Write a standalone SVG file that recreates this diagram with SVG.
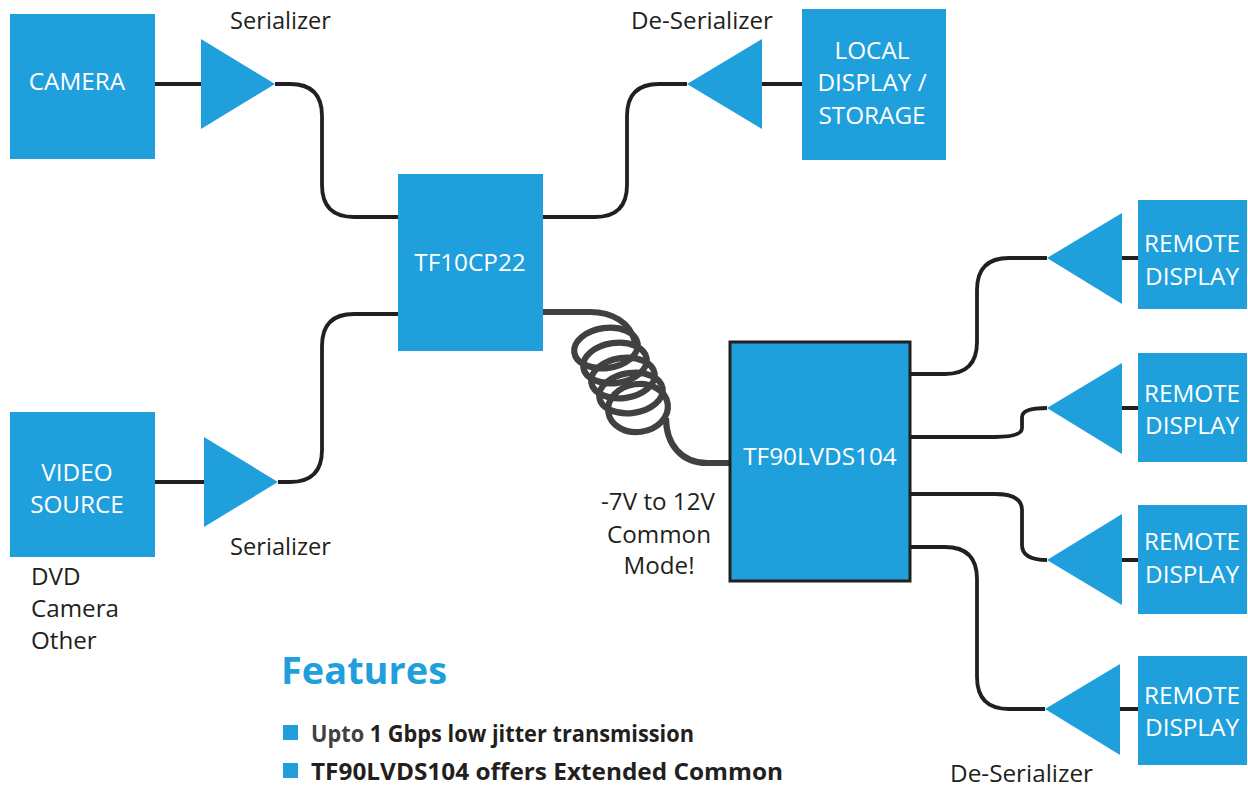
<svg xmlns="http://www.w3.org/2000/svg" width="1248" height="787" viewBox="0 0 1248 787">
<style>
.b{fill:#1f9fdc}
.w{fill:#fff;font:24.3px "Open Sans","Noto Sans",sans-serif;text-anchor:middle}
.k{fill:#231f20;font:24.2px "Open Sans","Noto Sans",sans-serif}
.m{text-anchor:middle}
.c{fill:none;stroke:#231f20;stroke-width:3.8}
.h{fill:none;stroke:#414042;stroke-width:6.2}
.f{fill:#231f20;font:bold 24px "Open Sans","Noto Sans",sans-serif}
</style>
<rect width="1248" height="787" fill="#fff"/>
<g id="connectors">
<path class="c" d="M155 84H201M275 84H290Q322 84 322 116V185Q322 217 354 217H398"/>
<path class="c" d="M155 482H204M278 482H290Q322 482 322 450V346Q322 314 354 314H398"/>
<path class="c" d="M543 217H595Q627 217 627 185V116Q627 84 659 84H687M762 84H802"/>
<path class="c" d="M911 374H945Q977 374 977 342V290Q977 258 1009 258H1047M1122 258H1138"/>
<path class="c" d="M911 437H995Q1022 437 1022 428V417Q1022 408 1047 408M1122 408H1138"/>
<path class="c" d="M911 494H995Q1022 494 1022 510V545Q1022 560 1047 560M1122 560H1138"/>
<path class="c" d="M911 547H945Q977 547 977 579V677Q977 709 1009 709H1045M1120 709H1138"/>
<path class="h" d="M543 312H590C612 312 630 322 635 342M666 418C666 445 682 463 707 463H729"/>
<ellipse class="h" cx="606" cy="348" rx="32" ry="20" transform="rotate(-8 606 348)"/>
<ellipse class="h" cx="615" cy="363" rx="32" ry="20" transform="rotate(-8 615 363)"/>
<ellipse class="h" cx="623" cy="378" rx="32" ry="20" transform="rotate(-8 623 378)"/>
<ellipse class="h" cx="631" cy="393" rx="32" ry="20" transform="rotate(-8 631 393)"/>
<ellipse class="h" cx="638" cy="408" rx="30" ry="24" transform="rotate(-8 638 408)"/>
</g>
<g id="camera"><rect class="b" x="10" y="14" width="145" height="145"/><text class="w" x="77" y="90">CAMERA</text></g>
<g id="serializer-top"><polygon class="b" points="201,39 201,129 275,84"/><text class="k" x="230" y="29" textLength="101" lengthAdjust="spacingAndGlyphs">Serializer</text></g>
<g id="video-source"><rect class="b" x="10" y="412" width="145" height="145"/><text class="w" x="77" y="481">VIDEO</text><text class="w" x="77" y="513">SOURCE</text><text class="k" x="31" y="585">DVD</text><text class="k" x="31" y="617">Camera</text><text class="k" x="31" y="649">Other</text></g>
<g id="serializer-bottom"><polygon class="b" points="204,437 204,527 278,482"/><text class="k" x="230" y="555" textLength="101" lengthAdjust="spacingAndGlyphs">Serializer</text></g>
<g id="tf10cp22"><rect class="b" x="398" y="174" width="145" height="177"/><text class="w" x="470" y="271">TF10CP22</text></g>
<g id="deserializer-top"><polygon class="b" points="762,39 762,129 687,84"/><text class="k" x="631" y="29" textLength="142" lengthAdjust="spacingAndGlyphs">De-Serializer</text></g>
<g id="local-display"><rect class="b" x="802" y="9" width="144" height="151"/><text class="w" x="872" y="59">LOCAL</text><text class="w" x="872" y="91">DISPLAY /</text><text class="w" x="872" y="124">STORAGE</text></g>
<g id="tf90lvds104"><rect class="b" x="730" y="342" width="180" height="239" stroke="#231f20" stroke-width="3"/><text class="w" x="820" y="465">TF90LVDS104</text></g>
<g id="common-mode"><text class="k m" x="658" y="510">-7V to 12V</text><text class="k m" x="659" y="543">Common</text><text class="k m" x="659" y="574">Mode!</text></g>
<g id="remote-1"><polygon class="b" points="1122,213 1122,304 1047,258"/><rect class="b" x="1138" y="200" width="109" height="109"/><text class="w" x="1192" y="252">REMOTE</text><text class="w" x="1192" y="285">DISPLAY</text></g>
<g id="remote-2"><polygon class="b" points="1122,363 1122,454 1047,408"/><rect class="b" x="1138" y="353" width="109" height="109"/><text class="w" x="1192" y="402">REMOTE</text><text class="w" x="1192" y="434">DISPLAY</text></g>
<g id="remote-3"><polygon class="b" points="1122,514 1122,605 1047,560"/><rect class="b" x="1138" y="505" width="109" height="109"/><text class="w" x="1192" y="550">REMOTE</text><text class="w" x="1192" y="583">DISPLAY</text></g>
<g id="remote-4"><polygon class="b" points="1120,664 1120,755 1045,709"/><rect class="b" x="1138" y="656" width="109" height="109"/><text class="w" x="1192" y="704">REMOTE</text><text class="w" x="1192" y="736">DISPLAY</text><text class="k" x="950" y="782" textLength="143" lengthAdjust="spacingAndGlyphs">De-Serializer</text></g>
<g id="features"><text x="281" y="684" fill="#1f9fdc" style="font:bold 38px 'Open Sans','Noto Sans',sans-serif" textLength="166" lengthAdjust="spacingAndGlyphs">Features</text>
<rect class="b" x="283" y="725" width="15" height="15"/><text class="f" x="311" y="742" fill="#231f20" textLength="383" lengthAdjust="spacingAndGlyphs"><tspan fill="#414042">Upto</tspan> 1 Gbps low jitter transmission</text>
<rect class="b" x="283" y="763" width="15" height="15"/><text class="f" x="311" y="780" textLength="472" lengthAdjust="spacingAndGlyphs">TF90LVDS104 offers Extended Common</text></g>
</svg>
